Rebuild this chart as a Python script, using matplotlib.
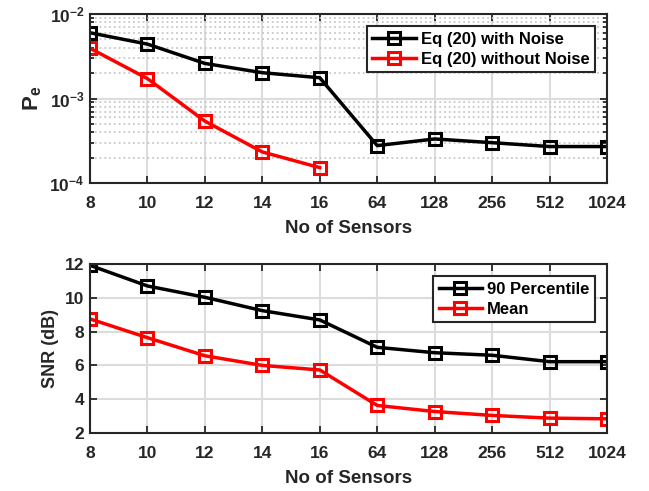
import numpy as np
import matplotlib.pyplot as plt
from matplotlib.ticker import LogLocator, NullFormatter

plt.rcParams['font.family'] = ['Liberation Sans', 'DejaVu Sans']
plt.rcParams['font.weight'] = 'bold'
plt.rcParams['axes.labelweight'] = 'bold'
plt.rcParams['mathtext.fontset'] = 'custom'
plt.rcParams['mathtext.rm'] = 'Liberation Sans:bold'
plt.rcParams['mathtext.bf'] = 'Liberation Sans:bold'
plt.rcParams['mathtext.default'] = 'bf'

sensors = ["8", "10", "12", "14", "16", "64", "128", "256", "512", "1024"]

pe_noise = [6.0e-3, 4.4e-3, 2.6e-3, 2.02e-3, 1.76e-3, 2.77e-4, 3.32e-4, 3.0e-4, 2.7e-4, 2.7e-4]
pe_clean = [3.93e-3, 1.72e-3, 5.4e-4, 2.33e-4, 1.52e-4]

snr_p90 = [11.92, 10.7, 10.03, 9.24, 8.69, 7.07, 6.75, 6.6, 6.22, 6.22]
snr_mean = [8.75, 7.64, 6.57, 6.0, 5.73, 3.63, 3.27, 3.04, 2.88, 2.84]

dark = '#262626'
x = np.arange(len(sensors))

fig = plt.figure(figsize=(6.49, 4.91), dpi=100)
ax1 = fig.add_axes([90/649, 1-183/491, 517/649, 169/491])
ax2 = fig.add_axes([90/649, 1-433/491, 517/649, 169/491])

style = dict(marker='s', markersize=9, markerfacecolor='none', markeredgewidth=2.2, linewidth=2.5)

ax1.plot(x, pe_noise, color='black', label='Eq (20) with Noise', **style)
ax1.plot(x[:len(pe_clean)], pe_clean, color='red', label='Eq (20) without Noise', **style)
ax1.set_yscale('log')
ax1.set_ylim(1e-4, 1e-2)
ax1.yaxis.set_minor_locator(LogLocator(base=10, subs=np.arange(2, 10)))
ax1.yaxis.set_minor_formatter(NullFormatter())
ax1.set_yticks([1e-4, 1e-3, 1e-2])
ax1.set_yticklabels([r'$10^{-4}$', r'$10^{-3}$', r'$10^{-2}$'])
ax1.grid(True, which='major', color='#dcdcdc', linewidth=1.5)
ax1.grid(True, which='minor', axis='y', color='#c8c8c8', linestyle=':', linewidth=1.3)
ax1.set_ylabel(r'P$_\mathbf{e}$', fontsize=16, color=dark, labelpad=4)

ax2.plot(x, snr_p90, color='black', label='90 Percentile', **style)
ax2.plot(x, snr_mean, color='red', label='Mean', **style)
ax2.set_ylim(2, 12)
ax2.set_yticks([2, 4, 6, 8, 10, 12])
ax2.grid(True, color='#dcdcdc', linewidth=1.5)
ax2.set_ylabel('SNR (dB)', fontsize=13, color=dark, labelpad=4)

for ax in (ax1, ax2):
    ax.set_xlim(0, 9)
    ax.set_xticks(x)
    ax.set_xticklabels(sensors)
    ax.set_axisbelow(True)
    ax.set_xlabel('No of Sensors', fontsize=13.5, color=dark, labelpad=7)
    ax.tick_params(which='both', direction='in', top=True, right=True,
                   labelsize=12.5, colors=dark, length=5, width=1.3)
    ax.tick_params(axis='x', pad=9)
    ax.tick_params(axis='y', pad=4)
    ax.tick_params(which='minor', length=3)
    for s in ax.spines.values():
        s.set_color(dark)
        s.set_linewidth(1.5)
    leg = ax.legend(loc='upper right', fontsize=12, frameon=True, fancybox=False,
                    edgecolor=dark, handlelength=2.6, borderpad=0.35, labelspacing=0.3,
                    handletextpad=0.3, borderaxespad=0.7, framealpha=1)
    leg.get_frame().set_linewidth(1.5)

fig.savefig('out.png', dpi=100)
